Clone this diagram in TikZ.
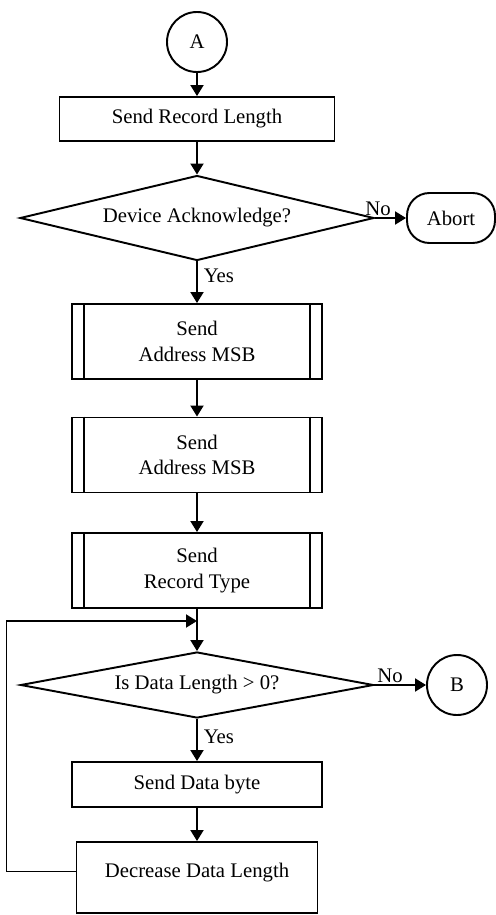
\documentclass[tikz,border=0pt]{standalone}
\usepackage{fontspec}
\setmainfont{Liberation Serif}
\usetikzlibrary{shapes,arrows.meta,positioning}
\tikzstyle{block} = [rectangle, draw, text centered, minimum width=5cm, minimum height=0.9cm]
\tikzstyle{subblock} = [block, align=center, minimum height=1.5cm]
\tikzstyle{decision} = [diamond, draw, aspect=4.2, inner sep=0pt, minimum width=7.08cm, minimum height=1.7cm]
\tikzstyle{connector} = [circle, draw, minimum size=1.2cm, inner sep=0pt]
\tikzstyle{terminal} = [rectangle, draw, rounded corners=0.45cm, minimum width=1.76cm, minimum height=1cm]
\tikzstyle{line} = [draw, -{Triangle[length=0.22cm, width=0.26cm]}]

\begin{document}
\begin{tikzpicture}[node distance=2cm, auto, line width=1.1pt, font=\fontsize{11.8}{14.6}\selectfont]
    \useasboundingbox (0,0) rectangle (9.9,-18.3);
        \node [connector] (A) at (3.94,-0.84) {A};
        \node [block, below of=A, node distance=1.54cm, minimum width=5.5cm, minimum height=0.88cm] (sendlen) {Send Record Length};
        \node [decision, below of=sendlen, node distance=1.98cm] (ack) {Device Acknowledge?};
        \node [terminal, right of=ack, node distance=5.08cm] (abort) {Abort};
        \node [subblock, below of=ack, node distance=2.47cm] (addrmsb) {Send\\Address MSB};
        \node [subblock, below of=addrmsb, node distance=2.27cm] (addrlsb) {Send\\Address MSB};
        \node [subblock, below of=addrlsb, node distance=2.31cm] (rectype) {Send\\Record Type};
        \coordinate [below of=rectype, node distance=1.01cm] (join);
        \node [decision, below of=rectype, node distance=2.29cm, aspect=5.35, minimum width=7.06cm, minimum height=1.32cm] (datalen) {Is Data Length > 0?};
        \node [connector, right of=datalen, node distance=5.2cm] (B) {B};
        \node [block, below of=datalen, node distance=1.99cm] (senddata) {Send Data byte};
        \node [block, below of=senddata, node distance=1.86cm, minimum width=4.82cm, minimum height=1.42cm, text depth=0.3cm] (declen) {Decrease Data Length};

        % side bars of the subroutine boxes
        \foreach \n in {addrmsb, addrlsb, rectype} {
            \draw ([xshift=0.26cm]\n.north west) -- ([xshift=0.26cm]\n.south west);
            \draw ([xshift=-0.26cm]\n.north east) -- ([xshift=-0.26cm]\n.south east);
        }

        \path [line] (A) -- (sendlen);
        \path [line] (sendlen) -- (ack);
        \path [line] (ack) -- node [above, pos=0.1, inner sep=1pt] {No} (abort);
        \path [line] (ack) -- node [right, pos=0.35] {Yes} (addrmsb);
        \path [line] (addrmsb) -- (addrlsb);
        \path [line] (addrlsb) -- (rectype);
        \path [line] (rectype) -- (datalen);
        \path [line] (datalen) -- node [above, pos=0.3, inner sep=1pt] {No} (B);
        \path [line] (datalen) -- node [right, pos=0.43] {Yes} (senddata);
        \path [line] (senddata) -- (declen);
        \path [line] ([yshift=0.12cm]declen.west) -- ++(-1.38,0) |- (join);
    \end{tikzpicture}
\end{document}
